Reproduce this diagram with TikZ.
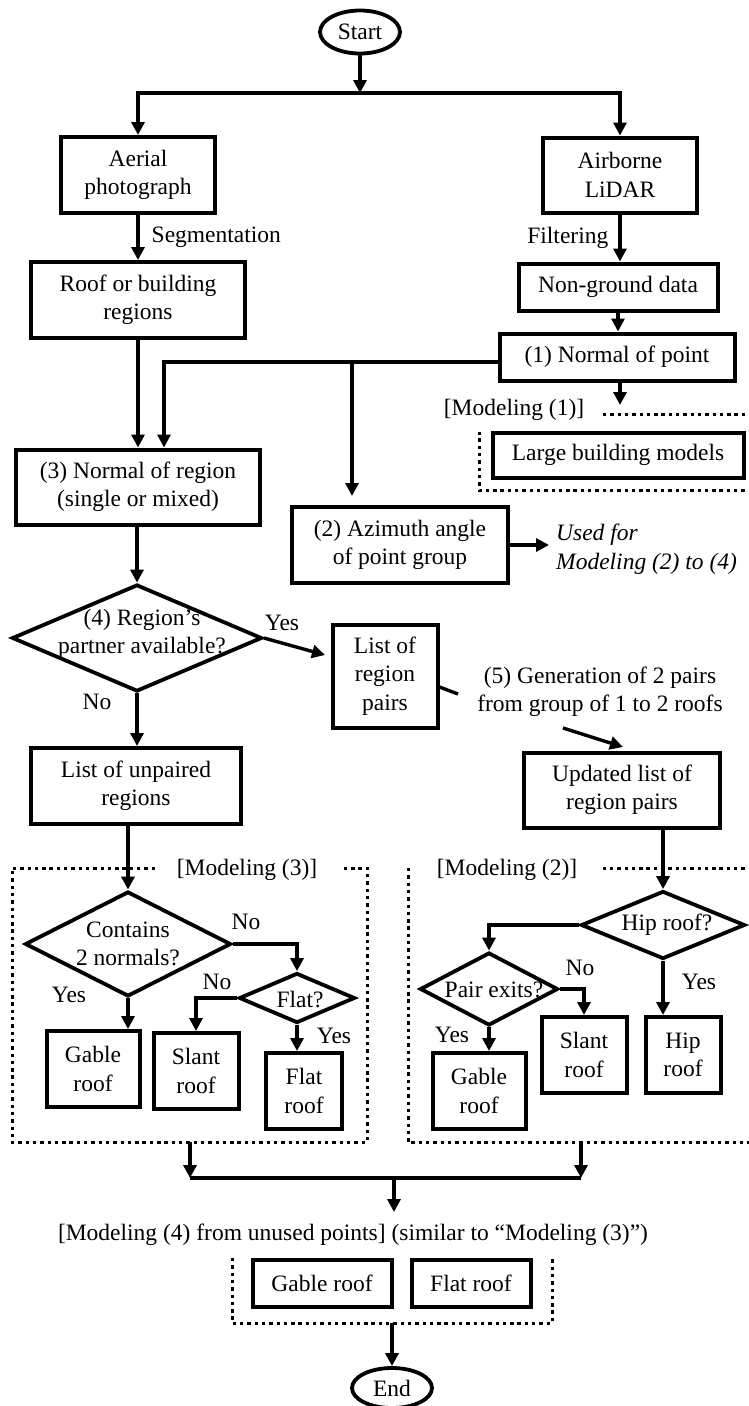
\documentclass[tikz,border=0pt]{standalone}
\usepackage{fontspec}
\setmainfont{Liberation Serif}
\usetikzlibrary{arrows.meta,shapes.geometric}
\newcommand\ft{\fontsize{23.5}{28.5}\selectfont}
\begin{document}
\begin{tikzpicture}[x=1pt,y=-1pt,
 box/.style={draw, line width=4pt, inner sep=0pt, align=center, font=\ft},
 oval/.style={draw, ellipse, line width=3.8pt, inner sep=0pt, font=\ft},
 dia/.style={draw, diamond, line width=3.8pt, inner sep=0pt},
 txt/.style={inner sep=0pt, align=center, font=\ft},
 arr/.style={line width=3.4pt, -{Triangle[length=13pt,width=13pt]}},
 ln/.style={line width=3.4pt},
 dot/.style={line width=3pt, dash pattern=on 3.4pt off 3.9pt}]
\useasboundingbox (0,0) rectangle (748,1406);

% ---- nodes
\node[oval, minimum width=80, minimum height=43] (start) at (360,32) {Start};
\node[box, minimum width=154, minimum height=76] (aerial) at (138,175) {Aerial\\photograph};
\node[box, minimum width=154, minimum height=75] (airborne) at (620,175) {Airborne\\LiDAR};
\node[box, minimum width=214, minimum height=76] (roof) at (138,300) {Roof or building\\regions};
\node[box, minimum width=199, minimum height=47] (nong) at (618,287) {Non-ground data};
\node[box, minimum width=235, minimum height=47] (normpt) at (617,357) {(1) Normal of point};
\node[box, minimum width=251, minimum height=45] (large) at (618,455) {Large building models};
\node[box, minimum width=244, minimum height=75] (normreg) at (138,487) {(3) Normal of region\\(single or mixed)};
\node[box, minimum width=216, minimum height=76] (azim) at (400,545) {(2) Azimuth angle\\of point group};
\node[txt, anchor=west, align=left, font=\ft\itshape] (used) at (556,549) {Used for\\Modeling (2) to (4)};
\node[dia, minimum width=250, minimum height=107] (d4) at (137,638) {};
\node[txt] (d4t) at (142,634) {(4) Region’s\\partner available?};
\node[box, minimum width=105, minimum height=103] (lrp) at (385,676) {List of\\region\\pairs};
\node[txt] (gen) at (600,692) {(5) Generation of 2 pairs\\from group of 1 to 2 roofs};
\node[box, minimum width=210, minimum height=76] (unp) at (136,786) {List of unpaired\\regions};
\node[box, minimum width=196, minimum height=75] (upd) at (622,790) {Updated list of\\region pairs};

\node[dia, minimum width=206, minimum height=105] (cont) at (128,944) {};
\node[txt] (contt) at (128,944) {Contains\\2 normals?};
\node[dia, minimum width=116, minimum height=50] (flatq) at (297,998) {};
\node[txt] (flatqt) at (300,999) {Flat?};
\node[box, minimum width=93, minimum height=76] (gable1) at (93,1069) {Gable\\roof};
\node[box, minimum width=85, minimum height=76] (slant1) at (196,1071) {Slant\\roof};
\node[box, minimum width=76, minimum height=76] (flat1) at (304,1091) {Flat\\roof};

\node[dia, minimum width=164, minimum height=68] (hipq) at (663,925) {};
\node[txt] (hipqt) at (667,925) {Hip roof?};
\node[dia, minimum width=138, minimum height=73] (pairq) at (489,989) {};
\node[txt] (pairqt) at (494,990) {Pair exits?};
\node[box, minimum width=93, minimum height=76] (gable2) at (479,1091) {Gable\\roof};
\node[box, minimum width=85, minimum height=76] (slant2) at (584,1055) {Slant\\roof};
\node[box, minimum width=75, minimum height=76] (hip2) at (683,1055) {Hip\\roof};

\node[txt] (m4lab) at (353,1235) {[Modeling (4) from unused points] (similar to “Modeling (3)”)};
\node[box, minimum width=139, minimum height=47] (gable3) at (322,1283) {Gable roof};
\node[box, minimum width=119, minimum height=47] (flat3) at (471,1283) {Flat roof};
\node[oval, minimum width=80, minimum height=40] (end) at (392,1388) {End};

% ---- labels
\node[txt] (m1lab) at (514,410) {[Modeling (1)]};
\node[txt] (m3lab) at (247,870) {[Modeling (3)]};
\node[txt] (m2lab) at (507,870) {[Modeling (2)]};
\node[txt] (y4) at (282,623) {Yes};
\node[txt] (n4) at (97,702) {No};
\node[txt] (nc) at (246,922) {No};
\node[txt] (nf) at (217,982) {No};
\node[txt] (yf) at (334,1036) {Yes};
\node[txt] (yc) at (69,995) {Yes};
\node[txt] (np) at (580,968) {No};
\node[txt] (yp) at (452,1035) {Yes};
\node[txt] (yh) at (699,982) {Yes};

% ---- coordinates
\coordinate (split) at (360,93);
\coordinate (br) at (352,362);
\coordinate (m1) at (620,405);
\coordinate (usedpt) at (549,545);
\coordinate (lrpin) at (325,655);
\coordinate (g1) at (458,694);
\coordinate (g2) at (563,728);
\coordinate (updin) at (623,747);
\coordinate (f3b) at (190,1142);
\coordinate (f2b) at (581,1142);
\coordinate (ml) at (190,1178);
\coordinate (mr) at (581,1178);
\coordinate (mm) at (394,1178);
\coordinate (m4in) at (394,1212);
\coordinate (f4b) at (392,1323);

% ---- connectors
\draw[arr] (start.south) -- (split);
\draw[arr] (split) -| (aerial.north);
\draw[arr] (split) -| (airborne.north);
\draw[arr] (aerial.south) -- node[txt, anchor=west, xshift=12pt] (seg) {Segmentation} (roof.north);
\draw[arr] (airborne.south) -- node[txt, anchor=east, xshift=-10pt] (filt) {Filtering} (airborne.south |- nong.north);
\draw[arr] (nong.south) -- (nong.south |- normpt.north);
\draw[arr] (roof.south) -- (roof.south |- normreg.north);
\draw[arr] ([yshift=-5pt]normpt.west) -| ([xshift=26pt]normreg.north);
\draw[arr, shorten >=9pt] (br) -- (br |- azim.north);
\draw[arr] (normpt.south -| m1) -- (m1);
\draw[arr] (azim.east) -- (usedpt);
\draw[arr] (normreg.south -| d4.north) -- (d4.north);
\draw[arr] (d4.east) -- (lrpin);
\draw[arr] (d4.south) -- (d4.south |- unp.north);
\draw[ln] ([yshift=-11pt]lrp.east) -- (g1);
\draw[arr] (g2) -- (updin);
\draw[arr] (unp.south -| cont.north) -- (cont.north);
\draw[arr] (upd.south -| hipq.north) -- (hipq.north);
\draw[arr] (cont.east) -| (flatq.north);
\draw[arr] (flatq.west) -| (slant1.north);
\draw[arr] (flatq.south) -- (flatq.south |- flat1.north);
\draw[arr] (cont.south) -- (cont.south |- gable1.north);
\draw[arr] (hipq.west) -| (pairq.north);
\draw[arr] (pairq.east) -| (slant2.north);
\draw[arr] (pairq.south) -- (pairq.south |- gable2.north);
\draw[arr] (hipq.south) -- (hipq.south |- hip2.north);
\draw[arr] (f3b) -- (ml);
\draw[arr] (f2b) -- (mr);
\draw[ln] (ml) -- (mr);
\draw[arr] (mm) -- (m4in);
\draw[arr] (f4b) -- (end.north);

% ---- dotted frames
\draw[dot] (603,414) -- (752,414);
\draw[dot] (752,490) -- (479,490) -- (479,432);
\draw[dot] (155,868) -- (12,868) -- (12,1142) -- (367,1142) -- (367,868) -- (341,868);
\draw[dot] (752,868) -- (599,868);
\draw[dot] (408,868) -- (408,1142) -- (752,1142);
\draw[dot] (232,1258) -- (232,1323) -- (552,1323) -- (552,1258);
\end{tikzpicture}
\end{document}
